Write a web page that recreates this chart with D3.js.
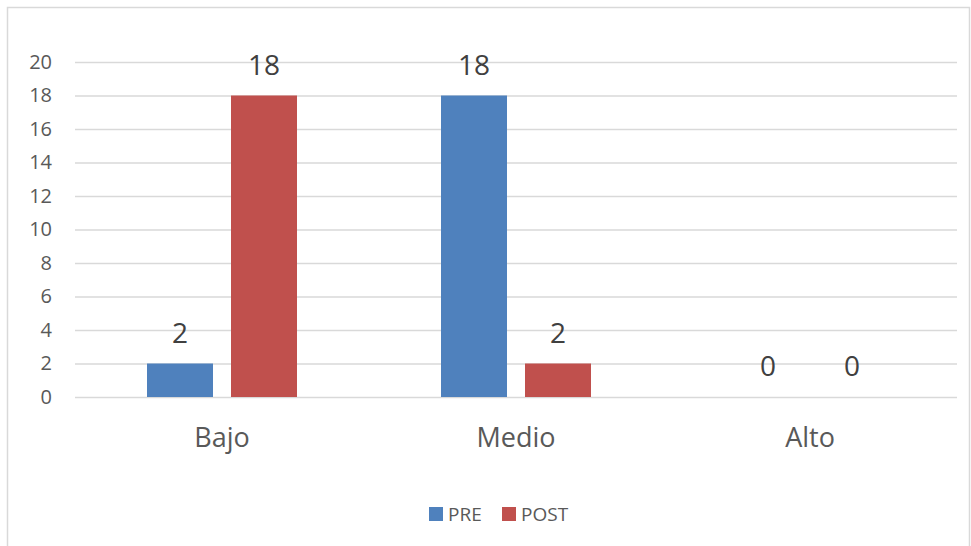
<!DOCTYPE html>
<html>
<head>
<meta charset="utf-8">
<script src="https://cdn.jsdelivr.net/npm/d3@7/dist/d3.min.js"></script>
<style>
  html, body { margin: 0; padding: 0; background: #fff; }
  svg { display: block; font-family: "Open Sans", sans-serif; }
</style>
</head>
<body>
<svg id="chart" width="971" height="546"></svg>
<script>
// Categories and series
const categories = ["Bajo", "Medio", "Alto"];
const seriesNames = ["PRE", "POST"];
const preValues = [2, 18, 0];
const postValues = [18, 2, 0];
const yTicks = [0, 2, 4, 6, 8, 10, 12, 14, 16, 18, 20];
const colors = { PRE: "#4F81BD", POST: "#C0504D" };

const svg = d3.select("#chart");

// chart border
svg.append("rect")
  .attr("x", 7.5).attr("y", 7.5)
  .attr("width", 962).attr("height", 548)
  .attr("fill", "none").attr("stroke", "#d9d9d9").attr("stroke-width", 1.5);

const plot = { left: 75, right: 957, top: 62, bottom: 397 };

const x0 = d3.scaleBand().domain(categories).range([plot.left, plot.right]).padding(0);
const x1 = d3.scaleBand().domain(seriesNames).range([0, 150]).paddingInner(18 / 84);
const y = d3.scaleLinear().domain([0, 20]).range([plot.bottom, plot.top]);

// y axis with gridlines
const yAxis = d3.axisLeft(y).tickValues(yTicks).tickSize(-(plot.right - plot.left)).tickPadding(23);
const gy = svg.append("g").attr("transform", `translate(${plot.left},0)`).call(yAxis);
gy.select(".domain").remove();
gy.selectAll(".tick line").attr("stroke", "#d9d9d9").attr("stroke-width", 1.3);
gy.selectAll(".tick text").attr("fill", "#595959").style("font-size", "20px")
  .style("font-family", "'Open Sans', sans-serif");

// category labels
const xAxis = d3.axisBottom(x0).tickSize(0).tickPadding(31);
const gx = svg.append("g").attr("transform", `translate(0,${plot.bottom})`).call(xAxis);
gx.select(".domain").remove();
gx.selectAll(".tick text").attr("fill", "#595959").style("font-size", "27px")
  .style("font-family", "'Open Sans', sans-serif");

const rows = categories.map((c, i) => ({ cat: c, PRE: preValues[i], POST: postValues[i] }));

const groups = svg.append("g").selectAll("g").data(rows).join("g")
  .attr("transform", d => `translate(${x0(d.cat) + x0.bandwidth() / 2 - 75},0)`);

const bars = groups.selectAll("g.bar").data(d => seriesNames.map(s => ({ s, v: d[s] }))).join("g").attr("class", "bar");

bars.append("rect")
  .attr("x", d => x1(d.s))
  .attr("width", x1.bandwidth())
  .attr("y", d => y(d.v))
  .attr("height", d => y(0) - y(d.v))
  .attr("fill", d => colors[d.s]);

// value labels
bars.append("text")
  .attr("x", d => x1(d.s) + x1.bandwidth() / 2)
  .attr("y", d => y(d.v) - 21)
  .attr("text-anchor", "middle")
  .attr("fill", "#404040")
  .style("font-size", "28px")
  .text(d => d.v);

// legend
const legend = svg.append("g");
const legendItems = [{ s: "PRE", x: 429 }, { s: "POST", x: 502 }];
legendItems.forEach(it => {
  legend.append("rect").attr("x", it.x).attr("y", 507).attr("width", 14).attr("height", 14).attr("fill", colors[it.s]);
  legend.append("text").attr("x", it.x + 19).attr("y", 521).attr("fill", "#595959")
    .style("font-size", "19px").text(it.s);
});
</script>
</body>
</html>
